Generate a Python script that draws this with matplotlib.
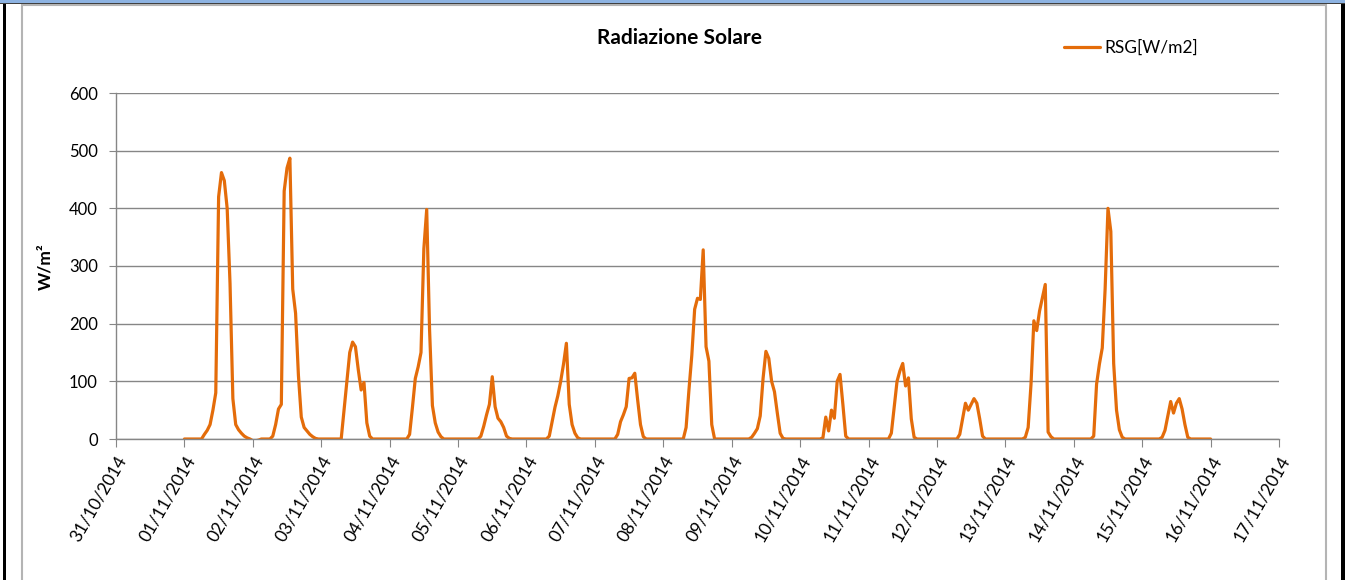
import matplotlib
matplotlib.use("Agg")
import matplotlib.pyplot as plt
import matplotlib.dates as mdates
from matplotlib.patches import Rectangle
import pandas as pd

plt.rcParams['font.family'] = ['Lato', 'DejaVu Sans']

# hourly RSG values [W/m2], 00:00 .. 23:00 for each day
nov01 = [0, 0, 0, 0, 0, 0, 0, 8, 15, 25, 50, 80, 420, 462, 448, 400, 270, 70, 25, 16, 10, 5, 2, 0]
nov02 = [-3, -3, -2, 0, 0, 0, 0, 5, 25, 52, 60, 430, 470, 487, 260, 218, 110, 38, 20, 14, 8, 4, 1, 0]
nov03 = [0, 0, 0, 0, 0, 0, 0, 0, 50, 100, 150, 168, 160, 120, 85, 98, 28, 5, 0, 0, 0, 0, 0, 0]
nov04 = [0, 0, 0, 0, 0, 0, 0, 8, 55, 105, 125, 150, 330, 398, 190, 58, 28, 12, 4, 0, 0, 0, 0, 0]
nov05 = [0, 0, 0, 0, 0, 0, 0, 0, 5, 22, 42, 60, 108, 56, 36, 30, 20, 5, 1, 0, 0, 0, 0, 0]
nov06 = [0, 0, 0, 0, 0, 0, 0, 0, 5, 30, 55, 75, 100, 130, 166, 60, 25, 10, 2, 0, 0, 0, 0, 0]
nov07 = [0, 0, 0, 0, 0, 0, 0, 0, 8, 30, 42, 56, 105, 106, 114, 68, 25, 4, 0, 0, 0, 0, 0, 0]
nov08 = [0, 0, 0, 0, 0, 0, 0, 0, 20, 85, 145, 225, 244, 242, 328, 160, 135, 25, 0, 0, 0, 0, 0, 0]
nov09 = [0, 0, 0, 0, 0, 0, 0, 3, 10, 18, 40, 105, 152, 140, 100, 82, 45, 10, 1, 0, 0, 0, 0, 0]
nov10 = [0, 0, 0, 0, 0, 0, 0, 0, 2, 38, 14, 50, 36, 100, 112, 60, 5, 0, 0, 0, 0, 0, 0, 0]
nov11 = [0, 0, 0, 0, 0, 0, 0, 0, 10, 55, 100, 118, 131, 92, 106, 35, 3, 0, 0, 0, 0, 0, 0, 0]
nov12 = [0, 0, 0, 0, 0, 0, 0, 0, 8, 35, 62, 50, 60, 70, 62, 35, 5, 0, 0, 0, 0, 0, 0, 0]
nov13 = [0, 0, 0, 0, 0, 0, 0, 3, 20, 95, 205, 188, 222, 245, 268, 12, 4, 0, 0, 0, 0, 0, 0, 0]
nov14 = [0, 0, 0, 0, 0, 0, 0, 5, 95, 130, 158, 260, 400, 360, 131, 50, 16, 3, 0, 0, 0, 0, 0, 0]
nov15 = [0, 0, 0, 0, 0, 0, 0, 3, 15, 40, 65, 45, 62, 70, 52, 25, 3, 0, 0, 0, 0, 0, 0, 0]
nov16 = [0]

rsg = nov01 + nov02 + nov03 + nov04 + nov05 + nov06 + nov07 + nov08 + nov09 + \
      nov10 + nov11 + nov12 + nov13 + nov14 + nov15 + nov16
times = pd.date_range('2014-11-01 00:00', periods=len(rsg), freq='h')

y_ticks = [0, 100, 200, 300, 400, 500, 600]

orange = '#E46C0A'
gray = '#868686'

fig = plt.figure(figsize=(13.45, 5.8), dpi=100)
W, H = 1345.0, 580.0

# screenshot frame
fig.patches.append(Rectangle((22 / W, -0.01), (1326 - 22) / W, (580 - 5) / H + 0.01,
                             transform=fig.transFigure, fill=False, edgecolor='#b4b4b4', lw=1.5))
fig.patches.append(Rectangle((3 / W, 0), 3 / W, 1, transform=fig.transFigure,
                             facecolor='black', edgecolor='none'))
fig.patches.append(Rectangle((1341 / W, 0), 4 / W, 1, transform=fig.transFigure,
                             facecolor='black', edgecolor='none'))
fig.patches.append(Rectangle((0, 1 - 3 / H), 1, 3 / H, transform=fig.transFigure,
                             facecolor='#8db3e2', edgecolor='none'))
fig.patches.append(Rectangle((0, 1 - 4 / H), 1, 1.2 / H, transform=fig.transFigure,
                             facecolor='#404040', edgecolor='none'))

ax = fig.add_axes([116 / W, 1 - 439 / H, (1279 - 116) / W, (439 - 93) / H])
ax.plot(times, rsg, color=orange, lw=2.3, label='RSG[W/m2]',
        solid_joinstyle='round', solid_capstyle='round')

ax.set_xlim(pd.Timestamp('2014-10-31'), pd.Timestamp('2014-11-17'))
ax.set_ylim(0, 600)
ax.set_yticks(y_ticks)
ax.xaxis.set_major_locator(mdates.DayLocator())
ax.xaxis.set_major_formatter(mdates.DateFormatter('%d/%m/%Y'))

ax.grid(axis='y', color=gray, lw=1.0)
ax.set_axisbelow(True)
for s in ['top', 'right']:
    ax.spines[s].set_visible(False)
for s in ['left', 'bottom']:
    ax.spines[s].set_color(gray)
    ax.spines[s].set_linewidth(1.0)

ax.tick_params(axis='y', direction='out', length=5, color=gray, labelsize=12, pad=8)
ax.tick_params(axis='x', direction='out', length=6, color=gray, labelsize=12.5, pad=4)
for lab in ax.get_xticklabels():
    lab.set_rotation(60)
    lab.set_ha('right')
    lab.set_va('top')
    lab.set_rotation_mode('anchor')

fig.text(45 / W, 1 - 267 / H, 'W/m²', rotation=90, ha='center', va='center',
         fontsize=12.5, fontweight='bold')
fig.text(679 / W, 1 - 38 / H, 'Radiazione Solare', ha='center', va='center',
         fontsize=15, fontweight='bold')

ax.legend(loc='center left', bbox_to_anchor=(1064 / W, 1 - 48 / H),
          bbox_transform=fig.transFigure, frameon=False, fontsize=12.5,
          handlelength=2.1, handletextpad=0.2, borderpad=0, borderaxespad=0)

fig.savefig('out.png', dpi=100)
